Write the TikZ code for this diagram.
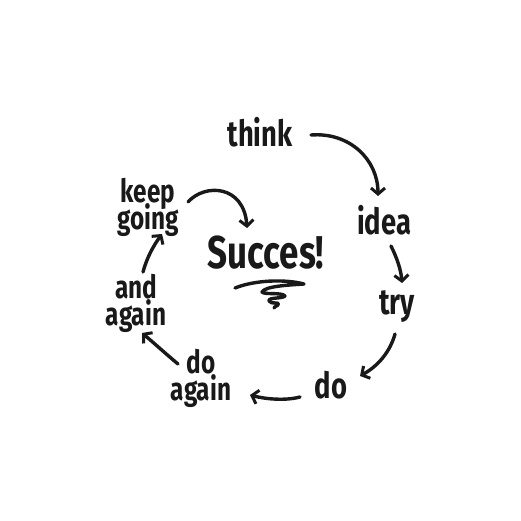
\documentclass[tikz,border=0pt]{standalone}
\usepackage{fontspec}
\usepackage{graphicx}
\setmainfont{Fira Sans}
\usetikzlibrary{arrows.meta}
\newcommand{\hw}[2]{\scalebox{0.76}[1]{\fontsize{#1}{27}\selectfont\bfseries\vbox{\lineskiplimit=-\maxdimen\halign{\hfil##\hfil\cr#2\crcr}}}}
\tikzset{
  lbl/.style={inner sep=0pt, text=black!90},
  arr/.style={line width=3.4pt, line cap=round, line join=round, black!90,
    -{Straight Barb[length=6pt,width=14pt,line width=3pt]}}
}
\begin{document}
\begin{tikzpicture}[x=1pt,y=-1pt]
\useasboundingbox (0,0) rectangle (521,521);
\fill[white] (0,0) rectangle (521,521);
\node[lbl] (think) at (260,132) {\hw{36}{think}};
\node[lbl] (idea) at (384,220) {\hw{36}{idea}};
\node[lbl] (try) at (397,307) {\hw{36}{try}};
\node[lbl] (do) at (331,385) {\hw{36}{do}};
\node[lbl] (doagain) at (201,378) {\hw{32}{do\cr again}};
\node[lbl] (andagain) at (136,303) {\hw{32}{and\cr again}};
\node[lbl] (keep) at (148,207) {\hw{32}{keep\cr going}};
\node[lbl] (succ) at (266,253) {\hw{46}{Succes!}};

\coordinate (s1) at (311,135); \coordinate (a1) at (378,196);
\coordinate (s2) at (391,246); \coordinate (a2) at (402,283);
\coordinate (s3) at (395,334); \coordinate (a3) at (360,376);
\coordinate (s4) at (300,397); \coordinate (a4) at (250,395);
\coordinate (s5) at (178,364); \coordinate (a5) at (142,333);
\coordinate (s6) at (143,272); \coordinate (a6) at (162,234);
\coordinate (s7) at (188,202); \coordinate (a7) at (247,228);

\draw[arr] (s1) .. controls (350,132) and (378,160) .. (a1);
\draw[arr] (s2) .. controls (397,258) and (401,270) .. (a2);
\draw[arr] (s3) .. controls (390,352) and (378,366) .. (a3);
\draw[arr] (s4) .. controls (285,401) and (265,399) .. (a4);
\draw[arr] (s5) .. controls (166,354) and (154,343) .. (a5);
\draw[arr] (s6) .. controls (147,257) and (154,245) .. (a6);
\draw[arr] (s7) .. controls (205,183) and (244,185) .. (a7);

\draw[line width=3.4pt, line cap=round, line join=round, black!90]
 (235,288) .. controls (255,280) and (285,279) .. (304,284)
 .. controls (290,285) and (265,286) .. (262,292)
 .. controls (264,295) and (282,292) .. (285,296)
 .. controls (282,299) and (268,297) .. (269,301)
 .. controls (271,305) and (281,301) .. (278,305)
 .. controls (276,307) and (273,307) .. (274,308);
\end{tikzpicture}
\end{document}
